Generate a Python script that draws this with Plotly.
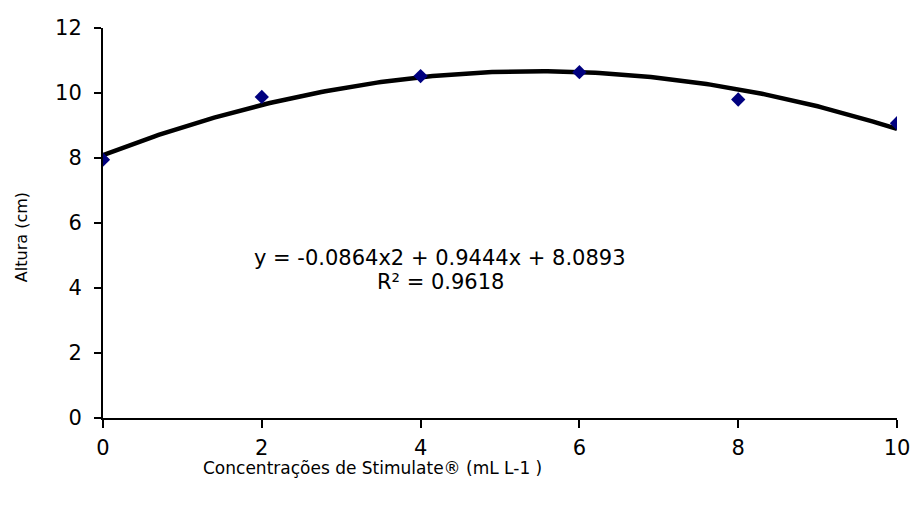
import numpy as np
import plotly.graph_objects as go

# Data
concentracao = [0, 2, 4, 6, 8, 10]
altura = [7.95, 9.88, 10.52, 10.64, 9.8, 9.07]

# Trendline coefficients displayed on the chart (y = a x^2 + b x + c)
coef_a, coef_b, coef_c = -0.0864, 0.9444, 8.0893
equation_text = "y = -0.0864x2 + 0.9444x + 8.0893"
r2_text = "R² = 0.9618"

x_tick_vals = [0, 2, 4, 6, 8, 10]
y_tick_vals = [0, 2, 4, 6, 8, 10, 12]

xs = np.linspace(0, 10, 201)
ys = coef_a * xs**2 + coef_b * xs + coef_c

FONT = "DejaVu Sans, Arial, sans-serif"

fig = go.Figure()
fig.add_trace(go.Scatter(x=xs, y=ys, mode="lines",
                         line=dict(color="black", width=4.5), hoverinfo="skip",
                         showlegend=False))
fig.add_trace(go.Scatter(x=concentracao, y=altura, mode="markers",
                         marker=dict(symbol="diamond", color="#00007f", size=11),
                         showlegend=False))

fig.update_layout(
    width=922, height=505,
    margin=dict(l=103, r=14, t=28, b=87),
    paper_bgcolor="white", plot_bgcolor="white",
    font=dict(family=FONT, color="black", size=20),
    xaxis=dict(range=[0, 10], tickvals=x_tick_vals, showgrid=False, zeroline=False,
               showline=True, linecolor="black", linewidth=2,
               ticks="outside", ticklen=8, tickwidth=2, tickcolor="black",
               tickfont=dict(size=21), ticklabelstandoff=2),
    yaxis=dict(range=[0, 12], tickvals=y_tick_vals, showgrid=False, zeroline=False,
               showline=True, linecolor="black", linewidth=2,
               ticks="outside", ticklen=7, tickwidth=2, tickcolor="black",
               tickfont=dict(size=21), ticklabelstandoff=8),
    annotations=[
        dict(text=equation_text, x=445, y=258, showarrow=False, font=dict(size=21)),
        dict(text=r2_text, x=445, y=282, showarrow=False, font=dict(size=21)),
        dict(text="Concentrações de Stimulate® (mL L-1 )", x=376, y=468,
             showarrow=False, font=dict(size=17)),
        dict(text="Altura (cm)", x=20, y=237, textangle=-90,
             showarrow=False, font=dict(size=16)),
    ],
)

# convert pixel positions of annotations to paper coordinates
L, R, T, B = 103, 922 - 14, 28, 505 - 87
new_ann = []
for a in fig.layout.annotations:
    px, py = a.x, a.y
    a.x = (px - L) / (R - L)
    a.y = (B - py) / (B - T)
    a.xref = "paper"
    a.yref = "paper"
    a.xanchor = "center"
    a.yanchor = "middle"
    new_ann.append(a)
fig.layout.annotations = new_ann

fig.write_html("out.html")
